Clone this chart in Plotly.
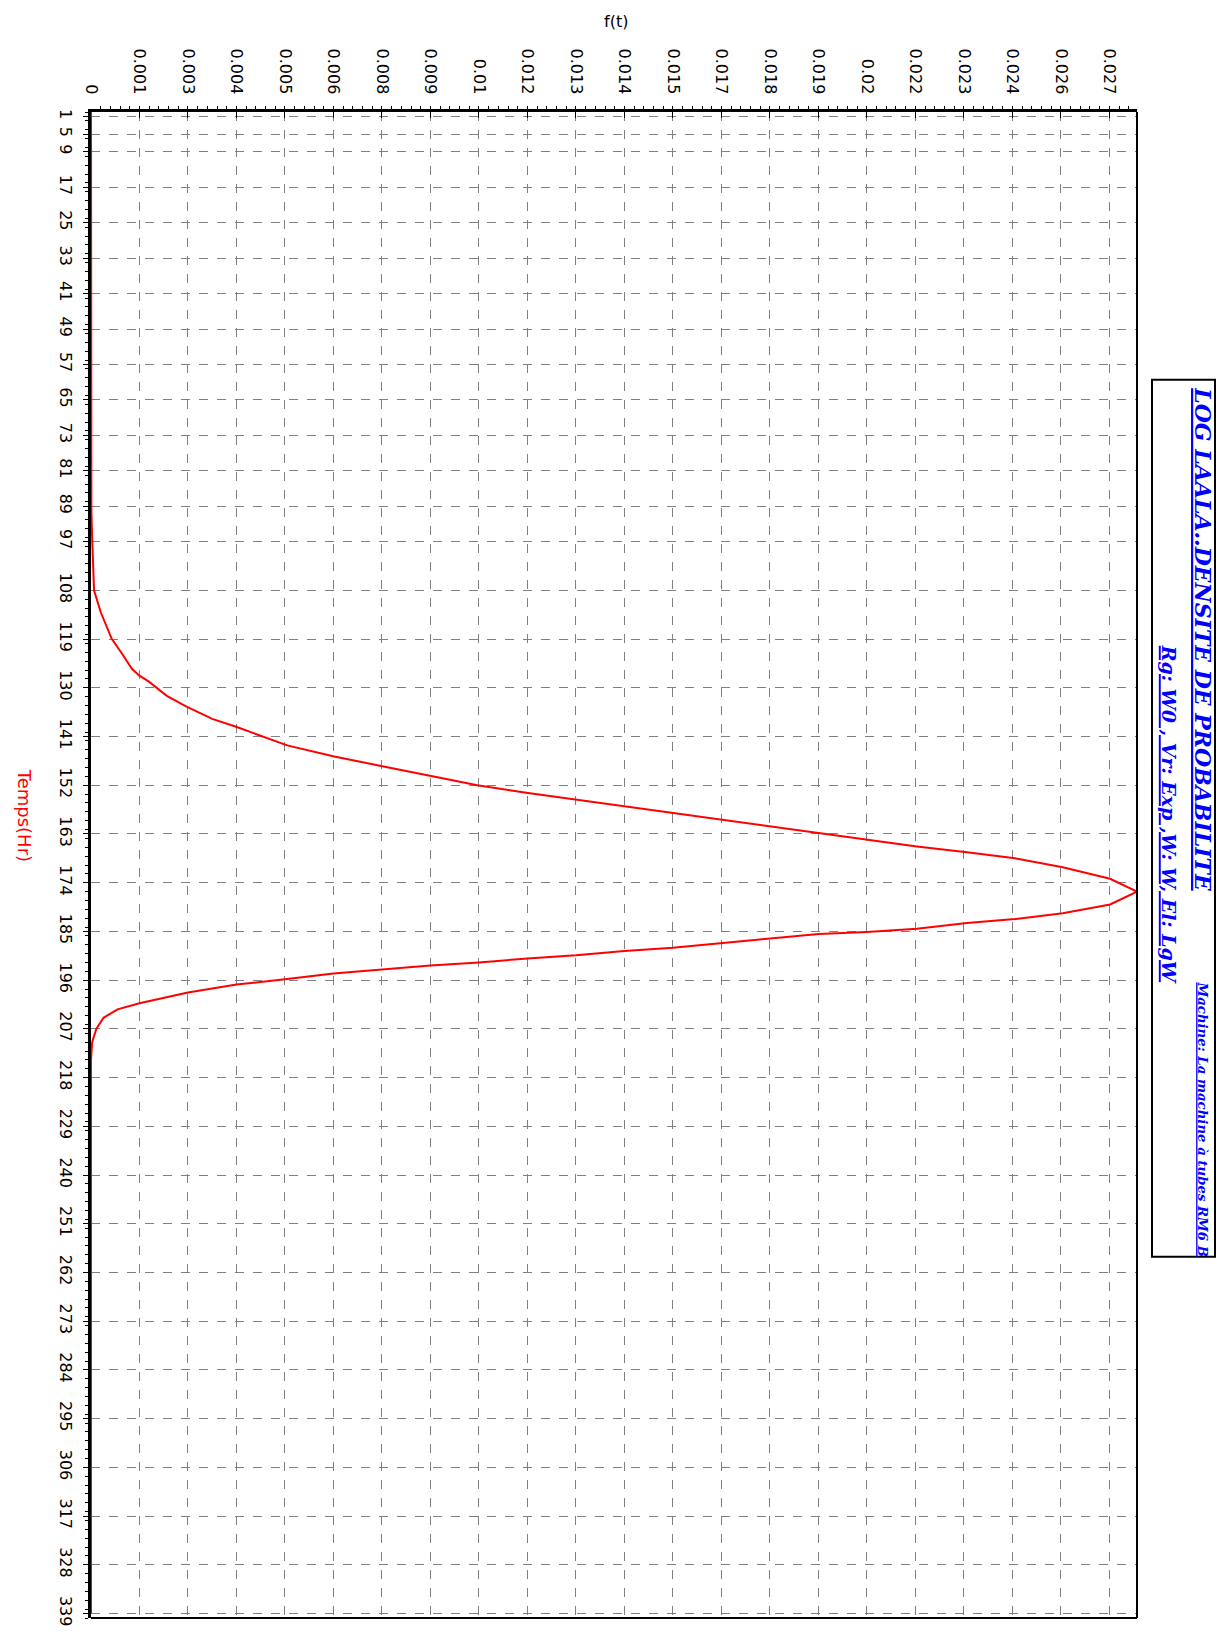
import plotly.graph_objects as go

# ---- data ----
t_hr = [0, 20, 40, 60, 80, 90, 96, 102, 108, 113, 119, 122.3, 125.7, 127.2, 128.6,
        131.8, 134.2, 137, 138.8, 143, 145.5, 147.7, 149.9, 152, 153.7, 155.2, 156.7,
        158.3, 159.9, 161.3, 162.7, 164.3, 165.8, 167.1, 168.5, 170.5, 173.1, 176,
        178.9, 180.9, 182.2, 183.1, 184.4, 185.1, 185.6, 186.8, 188.7, 189.4, 190.4,
        191.1, 192, 192.7, 193.6, 194.5, 195.8, 197, 198.8, 201.2, 202.6, 204.5,
        207, 210, 214, 220, 240, 260, 280, 300, 320, 339]
f_t = [0, 0, 0, 0, 0, 0.00001, 0.00003, 0.00005, 0.00008, 0.00026, 0.00055, 0.00082,
       0.00108, 0.00127, 0.00153, 0.002, 0.00251, 0.0032, 0.00383, 0.00518, 0.00642,
       0.00769, 0.00898, 0.0102, 0.01149, 0.01276, 0.01408, 0.01535, 0.01667, 0.01791,
       0.01918, 0.02048, 0.0218, 0.02312, 0.02439, 0.02565, 0.0269, 0.02761,
       0.0269, 0.02565, 0.02439, 0.02312, 0.0218, 0.02048, 0.01921, 0.01765, 0.01536,
       0.01408, 0.0128, 0.01152, 0.01024, 0.00896, 0.00768, 0.0064, 0.00512, 0.00384,
       0.00256, 0.00128, 0.0007, 0.00033, 0.00014, 0.00003, 0, 0, 0, 0, 0, 0, 0, 0]

time_ticks = [1, 5, 9, 17, 25, 33, 41, 49, 57, 65, 73, 81, 89, 97, 108, 119, 130, 141,
              152, 163, 174, 185, 196, 207, 218, 229, 240, 251, 262, 273, 284, 295,
              306, 317, 328, 339]
time_labels = [str(v) for v in time_ticks]

f_tickvals = [0, 0.00128, 0.00256, 0.00384, 0.00512, 0.0064, 0.00768, 0.00896,
              0.01024, 0.01152, 0.0128, 0.01408, 0.01536, 0.01664, 0.01792, 0.0192,
              0.02048, 0.02176, 0.02304, 0.02432, 0.0256, 0.02688]
f_ticklabels = ["0", "0.001", "0.003", "0.004", "0.005", "0.006", "0.008", "0.009",
                "0.01", "0.012", "0.013", "0.014", "0.015", "0.017", "0.018", "0.019",
                "0.02", "0.022", "0.023", "0.024", "0.026", "0.027"]

title_line1a = "LOG LAALA..DENSITE DE PROBABILITE"
title_line1b = "Machine: La machine à tubes RM6 B"
title_line2 = "Rg: W0 , Vr: Exp ,W: W, El: LgW"

# ---- layout geometry (pixels) ----
FW, FH = 1221, 1638
L, R, T, B = 91, 1137, 112, 1625
W, H = R - L, B - T


def px_x(px):
    return (px - L) / W


def px_y(py):
    return 1 - (py - T) / H


fig = go.Figure()
fig.add_trace(go.Scatter(
    x=f_t, y=t_hr, mode="lines",
    line=dict(color="#FF0000", width=2),
    cliponaxis=False, showlegend=False, hoverinfo="skip"))

tick_font = dict(family="DejaVu Sans, sans-serif", size=16, color="black")

fig.update_layout(
    width=FW, height=FH,
    margin=dict(l=L, r=FW - R, t=T, b=FH - B, pad=0),
    paper_bgcolor="white", plot_bgcolor="white",
    xaxis=dict(
        side="top", range=[0, 0.02761],
        tickmode="array", tickvals=f_tickvals, ticktext=f_ticklabels,
        tickangle=90, tickfont=tick_font,
        ticks="inside", ticklen=6, tickwidth=1, tickcolor="black",
        ticklabelstandoff=9,
        showline=True, linecolor="black", linewidth=3, mirror=False,
        showgrid=True, gridcolor="#808080", gridwidth=1, griddash="dash",
        zeroline=False, layer="below traces",
        minor=dict(dtick=0.000256, tick0=0, ticks="outside", ticklen=3,
                   tickcolor="black", showgrid=False),
    ),
    yaxis=dict(
        range=[340, 0],
        tickmode="array", tickvals=time_ticks, ticktext=time_labels,
        tickangle=90, tickfont=tick_font,
        ticks="outside", ticklen=5, tickwidth=1, tickcolor="black",
        ticklabelstandoff=4,
        showline=True, linecolor="black", linewidth=3, mirror=False,
        showgrid=True, gridcolor="#808080", gridwidth=1, griddash="dash",
        zeroline=False, layer="below traces",
        minor=dict(dtick=2, tick0=0, ticks="outside", ticklen=3,
                   tickcolor="black", showgrid=False),
    ),
)

# right and bottom frame lines
fig.add_shape(type="line", xref="paper", yref="paper", x0=1, x1=1, y0=0, y1=1,
              line=dict(color="black", width=2))
fig.add_shape(type="line", xref="paper", yref="paper", x0=0, x1=1, y0=0, y1=0,
              line=dict(color="black", width=2))

# title box
fig.add_shape(type="rect", xref="paper", yref="paper",
              x0=px_x(1152), x1=px_x(1215), y0=px_y(1262), y1=px_y(381),
              line=dict(color="black", width=2), fillcolor="white")

title_font = dict(family="DejaVu Serif, serif", color="#0000FF")
fig.add_annotation(xref="paper", yref="paper", x=px_x(1203), y=px_y(386),
                   xanchor="center", yanchor="top", textangle=90, showarrow=False,
                   text="<b><i><u>" + title_line1a + "</u></i></b>",
                   font=dict(size=22, **title_font))
fig.add_annotation(xref="paper", yref="paper", x=px_x(1203), y=px_y(983),
                   xanchor="center", yanchor="top", textangle=90, showarrow=False,
                   text="<b><i><u>" + title_line1b + "</u></i></b>",
                   font=dict(size=13.3, **title_font))
fig.add_annotation(xref="paper", yref="paper", x=px_x(1169), y=px_y(817),
                   xanchor="center", yanchor="middle", textangle=90, showarrow=False,
                   text="<b><i><u>" + title_line2 + "</u></i></b>",
                   font=dict(size=19, **title_font))

# axis titles
fig.add_annotation(xref="paper", yref="paper", x=px_x(616), y=px_y(21),
                   xanchor="center", yanchor="middle", showarrow=False,
                   text="f(t)", font=dict(family="DejaVu Sans, sans-serif", size=16, color="black"))
fig.add_annotation(xref="paper", yref="paper", x=px_x(24), y=px_y(818),
                   xanchor="center", yanchor="middle", textangle=90, showarrow=False,
                   text="Temps(Hr)", font=dict(family="DejaVu Sans, sans-serif", size=18, color="#FF0000"))

fig.write_html("out.html", config={"displayModeBar": False},
               post_script="document.body.style.margin='0';document.body.style.overflow='hidden';")
